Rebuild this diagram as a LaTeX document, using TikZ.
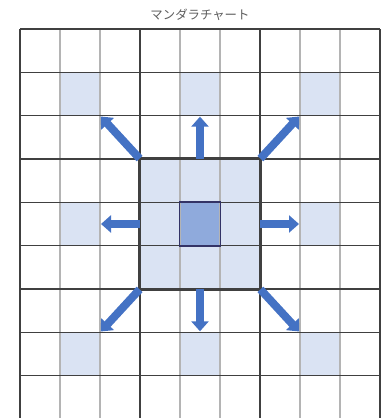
\documentclass[tikz,border=0pt]{standalone}
\usepackage{fontspec}
\usepackage{tikz}
\usepackage{xcolor}
\usetikzlibrary{arrows.meta}
\newfontfamily\jpfont{Noto Sans CJK JP}
\definecolor{paleblue}{HTML}{DAE3F3}
\definecolor{midblue}{HTML}{8FAADC}
\definecolor{arrowblue}{HTML}{4472C4}
\definecolor{rulegray}{HTML}{404040}
\definecolor{softgray}{HTML}{B4B4B4}
\tikzset{
  cellbox/.style={minimum width=20pt,minimum height=21.667pt,inner sep=0pt,fill=paleblue},
  spoke/.style={arrowblue,line width=4pt,-{Triangle[width=8.5pt,length=5pt]},shorten >=0.3pt}
}

\begin{document}
\begin{tikzpicture}[x=20pt,y=21.667pt]
  \useasboundingbox (-0.5,0.023) rectangle (9.1,9.669);
  % title
  \node[font=\jpfont\fontsize{6.2}{7}\selectfont,text=rulegray!85] (title) at (4.5,9.33) {マンダラチャート};
  % central block and hub cell
  \node[cellbox,minimum width=60pt,minimum height=65pt] (core) at (4.5,4.5) {};
  \node[cellbox,fill=midblue] (hub) at (4.5,4.5) {};
  % theme cells of the outer blocks
  \node[cellbox] (tNW) at (1.5,7.5) {};
  \node[cellbox] (tN) at (4.5,7.5) {};
  \node[cellbox] (tNE) at (7.5,7.5) {};
  \node[cellbox] (tW) at (1.5,4.5) {};
  \node[cellbox] (tE) at (7.5,4.5) {};
  \node[cellbox] (tSW) at (1.5,1.5) {};
  \node[cellbox] (tS) at (4.5,1.5) {};
  \node[cellbox] (tSE) at (7.5,1.5) {};
  % grid
  \foreach \x in {1,2,4,5,7,8} \draw[softgray,line width=0.6pt] (\x,0) -- (\x,9);
  \foreach \y in {1,2,4,5,7,8} \draw[rulegray,line width=0.5pt] (0,\y) -- (9,\y);
  \foreach \t in {0,3,6,9} {
    \draw[rulegray,line width=1.2pt] (\t,0) -- (\t,9);
    \draw[rulegray,line width=1.2pt] (0,\t) -- (9,\t);
  }
  \draw[rulegray,line width=1.2pt] (core.south west) rectangle (core.north east);
  \draw[rulegray!80!blue,line width=0.8pt] (hub.south west) rectangle (hub.north east);
  % arrows
  \draw[spoke] (core.north west) -- (tNW.south east);
  \draw[spoke] (core.north) -- (tN.south);
  \draw[spoke] (core.north east) -- (tNE.south west);
  \draw[spoke] (core.west) -- (tW.east);
  \draw[spoke] (core.east) -- (tE.west);
  \draw[spoke] (core.south west) -- (tSW.north east);
  \draw[spoke] (core.south) -- (tS.north);
  \draw[spoke] (core.south east) -- (tSE.north west);
\end{tikzpicture}
\end{document}
